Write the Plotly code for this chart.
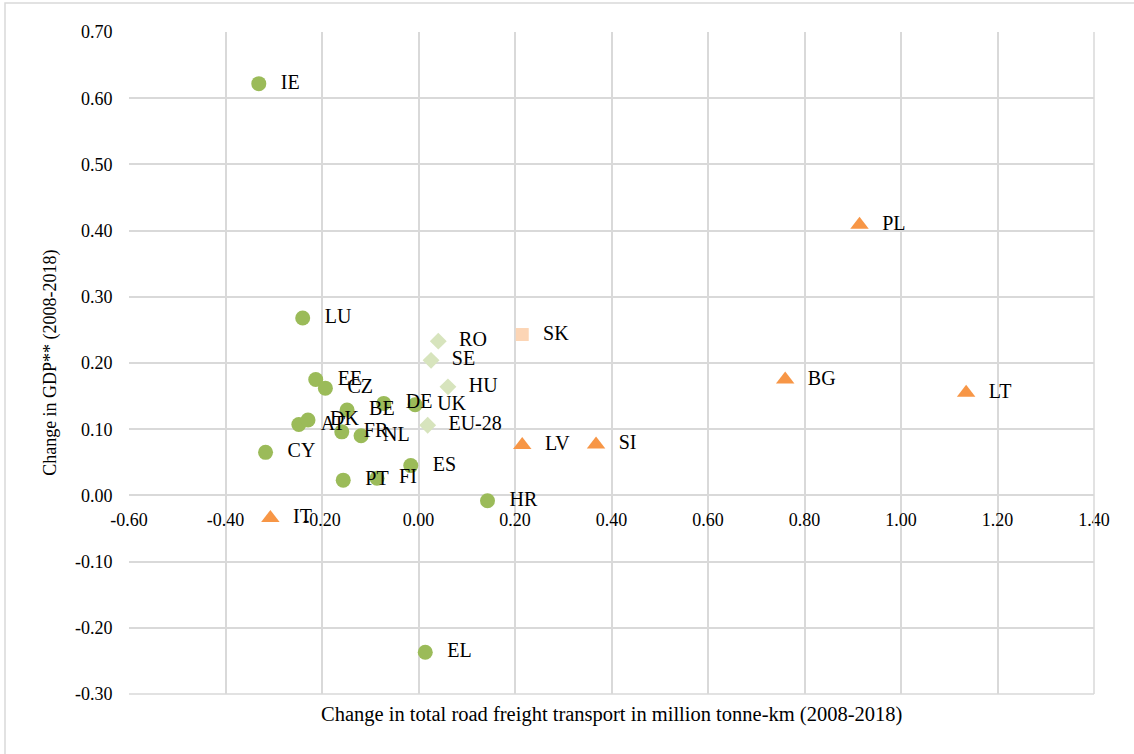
import plotly.graph_objects as go

# Change in total road freight transport (x) vs change in GDP (y), 2008-2018
green_codes = ["IE", "LU", "EE", "CZ", "BE", "DE", "UK", "AT", "DK", "FR", "NL",
               "CY", "PT", "FI", "ES", "HR", "EL"]
green_x = [-0.331, -0.240, -0.213, -0.193, -0.148, -0.072, -0.007, -0.248, -0.229,
           -0.159, -0.119, -0.317, -0.156, -0.086, -0.016, 0.143, 0.014]
green_y = [0.622, 0.268, 0.175, 0.162, 0.129, 0.139, 0.137, 0.107, 0.114,
           0.096, 0.090, 0.065, 0.023, 0.026, 0.045, -0.008, -0.237]

pale_codes = ["RO", "SE", "HU", "EU-28"]
pale_x = [0.041, 0.026, 0.061, 0.019]
pale_y = [0.233, 0.204, 0.164, 0.106]

square_codes = ["SK"]
square_x = [0.215]
square_y = [0.243]

orange_codes = ["PL", "BG", "LT", "LV", "SI", "IT"]
orange_x = [0.914, 0.760, 1.135, 0.215, 0.368, -0.307]
orange_y = [0.409, 0.175, 0.155, 0.076, 0.077, -0.034]

x_ticks = [-0.6, -0.4, -0.2, 0.0, 0.2, 0.4, 0.6, 0.8, 1.0, 1.2, 1.4]
y_ticks = [-0.3, -0.2, -0.1, 0.0, 0.1, 0.2, 0.3, 0.4, 0.5, 0.6, 0.7]

SERIF = "Liberation Serif, Times New Roman, serif"
LABEL_FONT = dict(family=SERIF, size=20, color="#000000")
LABEL_PAD = "  \u200a"

fig = go.Figure()


def add_group(xs, ys, codes, symbol, color, size):
    fig.add_trace(go.Scatter(
        x=xs, y=ys, text=[LABEL_PAD + c for c in codes],
        mode="markers+text", textposition="middle right",
        marker=dict(symbol=symbol, color=color, size=size, line=dict(width=0)),
        textfont=LABEL_FONT, hoverinfo="skip", showlegend=False, cliponaxis=False,
    ))


add_group(green_x, green_y, green_codes, "circle", "#9BBB59", 15)
add_group(pale_x, pale_y, pale_codes, "diamond", "#D7E4BD", 13)
add_group(square_x, square_y, square_codes, "square", "#FCD5B5", 13)
add_group(orange_x, orange_y, orange_codes, "triangle-up", "#F79646", 16)

fig.update_layout(
    width=1134, height=754,
    margin=dict(l=129, r=40, t=32, b=60),
    paper_bgcolor="#FFFFFF", plot_bgcolor="#FFFFFF",
    font=dict(family=SERIF, size=18, color="#000000"),
    xaxis=dict(
        range=[-0.6, 1.4], tickvals=x_ticks,
        ticktext=[f"{v:.2f}" for v in x_ticks],
        showgrid=True, gridcolor="#D9D9D9", gridwidth=1.5,
        zeroline=False, showline=False,
        anchor="free", position=0.3,
        ticks="outside", ticklen=8, tickcolor="rgba(0,0,0,0)",
        tickfont=dict(family=SERIF, size=18),
    ),
    yaxis=dict(
        range=[-0.3, 0.7], tickvals=y_ticks,
        ticktext=[f"{v:.2f}" for v in y_ticks],
        showgrid=True, gridcolor="#D9D9D9", gridwidth=1.5,
        zeroline=False, showline=False,
        ticks="outside", ticklen=12, tickcolor="rgba(0,0,0,0)",
        tickfont=dict(family=SERIF, size=18),
    ),
    annotations=[
        dict(text="Change in total road freight transport in million tonne-km (2008-2018)",
             xref="paper", yref="paper", x=0.5, y=-0.010, xanchor="center", yanchor="top",
             showarrow=False, font=dict(family=SERIF, size=20.5)),
        dict(text="Change in GDP** (2008-2018)",
             xref="paper", yref="paper", x=-0.082, y=0.5, xanchor="center", yanchor="middle",
             textangle=-90, showarrow=False, font=dict(family=SERIF, size=18)),
    ],
    shapes=[
        # plot-area frame lines (right edge and bottom edge)
        dict(type="line", xref="paper", yref="paper", x0=1, x1=1, y0=0, y1=1,
             line=dict(color="#D9D9D9", width=1.5)),
        dict(type="line", xref="paper", yref="paper", x0=0, x1=1, y0=0, y1=0,
             line=dict(color="#D9D9D9", width=1.5)),
        # outer chart border
        dict(type="rect", xref="paper", yref="paper",
             x0=-124 / 965, x1=1.2, y0=1 + 29 / 662, y1=-0.2,
             line=dict(color="#D9D9D9", width=1.5)),
    ],
)

fig.write_html("out.html")
